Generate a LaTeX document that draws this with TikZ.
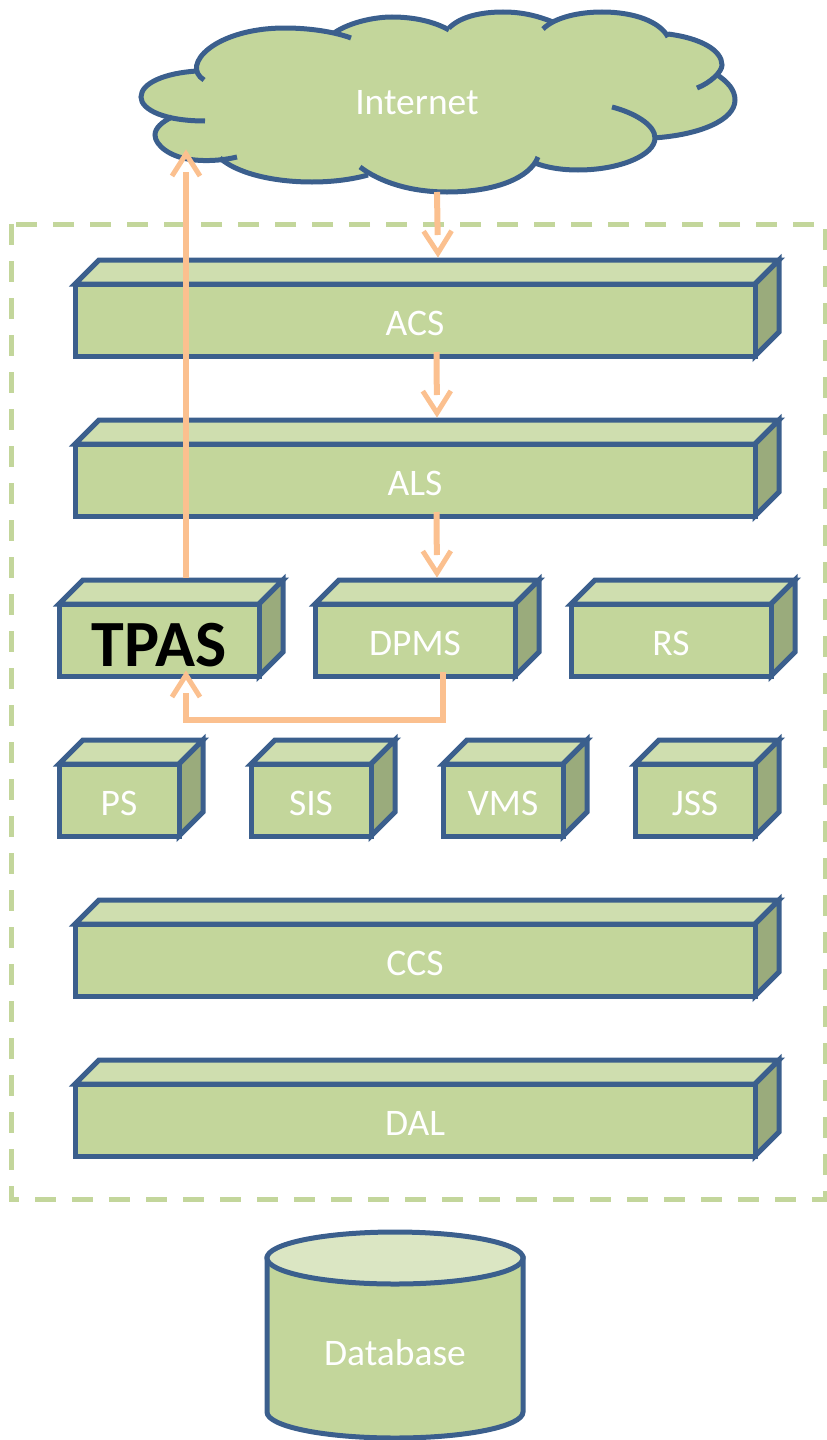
\documentclass[tikz,border=0pt]{standalone}
\usepackage{fontspec}
\setmainfont{Carlito}
\usetikzlibrary{arrows.meta}
\definecolor{gFill}{HTML}{C3D69B}
\definecolor{gTop}{HTML}{CFDEAF}
\definecolor{gSide}{HTML}{9AAB7C}
\definecolor{gDb}{HTML}{DBE6C3}
\definecolor{bStroke}{HTML}{3B5F8D}
\definecolor{oArrow}{HTML}{FBC08F}
\pgfdeclarearrow{
  name=OpenHead,
  parameters={x},
  setup code={
    \pgfarrowssettipend{0pt}
    \pgfarrowssetvisualtipend{0pt}
    \pgfarrowssetbackend{-23pt}
    \pgfarrowssetvisualbackend{-23pt}
    \pgfarrowssetlineend{-23pt}
  },
  drawing code={
    \pgfsetdash{}{0pt}
    \pgfsetbuttcap
    \pgfsetmiterjoin
    \pgfsetlinewidth{5pt}
    \pgfpathmoveto{\pgfqpoint{-27pt}{14pt}}
    \pgfpathlineto{\pgfqpoint{-5pt}{0pt}}
    \pgfpathlineto{\pgfqpoint{-27pt}{-14pt}}
    \pgfusepathqstroke
  }
}
\tikzset{
  x=1pt,y=-1pt,
  outline/.style={draw=bStroke,line width=5pt,miter limit=10},
  facefront/.style={outline,fill=gFill,inner sep=0pt,outer sep=0pt,minimum height=72pt,anchor=north west,
    text=white,font=\fontsize{37.5}{42}\selectfont,text depth=0pt,text height=0pt},
  facetop/.style={outline,fill=gTop},
  faceside/.style={outline,fill=gSide},
  conn/.style={draw=oArrow,line width=6pt,-{OpenHead},miter limit=10},
  lobe/.style={draw=bStroke,line width=5pt,line cap=butt},
  blabel/.style={text=white,font=\fontsize{37.5}{42}\selectfont,inner sep=0pt}
}
\newcommand{\threebox}[5]{%
  \draw[facetop] (#2,#3) -- ++(24,-24) -- ++(#4,0) -- ++(-24,24) -- cycle;
  \draw[faceside] (#2+#4,#3) -- ++(24,-24) -- ++(0,72) -- ++(-24,24) -- cycle;
  \node[facefront,minimum width=#4pt] (#1) at (#2,#3) {\raisebox{-15.5pt}{#5}};
}
\def\cK{(205,121) .. controls (165,121) and (141,110) .. (141,97) .. controls (141,83) and (165,73) .. (197,71)}
\def\cA{(204,80) .. controls (180,65) and (215,28) .. (285,28) .. controls (310,28) and (335,32) .. (351,38)}
\def\cB{(334,33) .. controls (350,22) and (375,17) .. (392,17) .. controls (415,17) and (435,22) .. (449,30)}
\def\cC{(449,28) .. controls (460,17) and (480,12) .. (503,12) .. controls (525,12) and (540,17) .. (553,22)}
\def\cD{(543,29) .. controls (555,17) and (580,12) .. (602,12) .. controls (635,12) and (660,22) .. (668,37)}
\def\cE{(668,34) .. controls (700,38) and (722,50) .. (722,65) .. controls (722,72) and (710,83) .. (697,88)}
\def\cF{(716,74) .. controls (728,82) and (735,90) .. (735,100) .. controls (735,120) and (700,135) .. (653,138)}
\def\cG{(612,107) .. controls (635,113) and (655,125) .. (655,138) .. controls (655,155) and (620,170) .. (578,170) .. controls (560,170) and (545,167) .. (535,163)}
\def\cH{(538,157) .. controls (530,178) and (495,192) .. (447,192) .. controls (410,192) and (380,182) .. (360,167)}
\def\cI{(368,175) .. controls (350,180) and (330,182) .. (312,182) .. controls (270,182) and (235,172) .. (220,158)}
\def\cJ{(237,157) .. controls (220,161) and (205,161) .. (195,160) .. controls (170,158) and (155,145) .. (155,135) .. controls (155,128) and (162,122) .. (172,117)}
\begin{document}
\begin{tikzpicture}
\useasboundingbox (0,0) rectangle (827,1440);
% boundary
\draw[gFill,line width=5pt,dash pattern=on 21pt off 16pt] (11,224) rectangle (825,1199);
% cloud
\fill[gFill] \cK -- \cA -- \cB -- \cC -- \cD -- \cE -- \cF -- \cG -- \cH -- \cI -- \cJ -- cycle;
\fill[gFill] (200,75) -- (350,35) -- (668,35) -- (700,85) -- (650,138) -- (535,163) -- (360,170) -- (220,158) -- (172,118) -- cycle;
\foreach \c in {\cK,\cA,\cB,\cC,\cD,\cE,\cF,\cG,\cH,\cI,\cJ}{\draw[lobe] \c;}
\node[blabel] (internet) at (417,102.5) {Internet};
\coordinate (cloudS) at (437,192);
\coordinate (cloudSW) at (186,149);
% boxes
\threebox{acs}{75}{284}{680}{ACS}
\threebox{als}{75}{444}{680}{ALS}
\threebox{tpas}{59}{604}{200}{\textcolor{black}{\fontsize{66}{70}\bfseries\selectfont\raisebox{-10.5pt}{TPAS}}}
\threebox{dpms}{315}{604}{200}{DPMS}
\threebox{rs}{571}{604}{200}{RS}
\threebox{ps}{59}{764}{120}{PS}
\threebox{sis}{251}{764}{120}{SIS}
\threebox{vms}{443}{764}{120}{VMS}
\threebox{jss}{635}{764}{120}{JSS}
\threebox{ccs}{75}{924}{680}{CCS}
\threebox{dal}{75}{1084}{680}{DAL}
% database
\draw[outline,fill=gFill] (267,1258) -- (267,1412) arc[start angle=180,end angle=360,x radius=128,y radius=-26] -- (523,1258) -- cycle;
\draw[outline,fill=gDb] (395,1258) ellipse[x radius=128,y radius=26];
\node[blabel] (db) at (395,1353) {Database};
% connectors
\draw[conn] (cloudS) -- ([xshift=23pt,yshift=26pt]acs.north);
\draw[conn] ([xshift=21.5pt,yshift=4pt]acs.south) -- ([xshift=22pt,yshift=26pt]als.north);
\draw[conn] ([xshift=21.5pt,yshift=4pt]als.south) -- ([xshift=22pt,yshift=26pt]dpms.north);
\draw[conn] ([xshift=27pt,yshift=26pt]tpas.north) -- (cloudSW);
\draw[conn] ([xshift=28pt,yshift=4pt]dpms.south) -- (443,720) -- (186,720) -- ([xshift=27pt,yshift=6pt]tpas.south);
\end{tikzpicture}
\end{document}
